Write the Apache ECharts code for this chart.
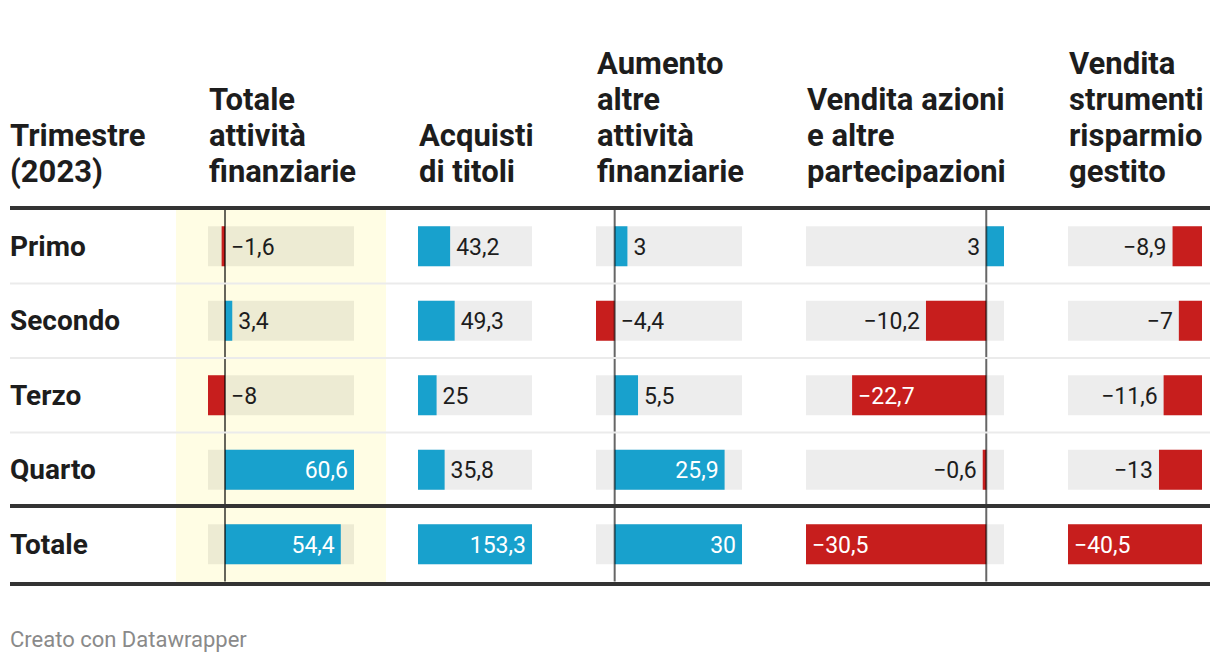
<!DOCTYPE html>
<html>
<head>
<meta charset="utf-8">
<script src="https://cdn.jsdelivr.net/npm/echarts@6/dist/echarts.min.js"></script>
<style>html,body{margin:0;padding:0;background:#fff}#c{width:1220px;height:664px}</style>
</head>
<body>
<div id="c"></div>
<script>
// ---------- data ----------
const categories = ['Primo', 'Secondo', 'Terzo', 'Quarto', 'Totale'];
const firstHeader = 'Trimestre\n(2023)';
const columnTitles = [
  'Totale\nattività\nfinanziarie',
  'Acquisti\ndi titoli',
  'Aumento\naltre\nattività\nfinanziarie',
  'Vendita azioni\ne altre\npartecipazioni',
  'Vendita\nstrumenti\nrisparmio\ngestito'
];
const totaleAttivita   = [-1.6, 3.4, -8, 60.6, 54.4];
const acquistiTitoli   = [43.2, 49.3, 25, 35.8, 153.3];
const aumentoAltre     = [3, -4.4, 5.5, 25.9, 30];
const venditaAzioni    = [3, -10.2, -22.7, -0.6, -30.5];
const venditaStrumenti = [-8.9, -7, -11.6, -13, -40.5];
const footerText = 'Creato con Datawrapper';

// ---------- layout / style ----------
const columns = [totaleAttivita, acquistiTitoli, aumentoAltre, venditaAzioni, venditaStrumenti];
const colLeft  = [208, 418, 596, 806, 1068];
const colWidth = [146, 114, 146, 198, 134];
const GRID_TOP = 209, GRID_H = 372.5;
const BAND = GRID_H / categories.length;
const BAR_H = 40, PAD = 6;
const BLUE = '#18a1cd', RED = '#c71e1d', DARK = '#1d1d1d';
const FONT = 'Roboto, "Noto Sans", sans-serif';
const VAL_SIZE = 23;
const HEAD_SIZE = 31;
const ROW_SIZE = 28;

const ctx = document.createElement('canvas').getContext('2d');
ctx.font = VAL_SIZE + 'px Roboto';
function fmt(v) {
  const s = String(Math.abs(v)).replace('.', ',');
  return v < 0 ? '\u2212' + s : s;
}
function measure(t) { return ctx.measureText(t).width; }

function makeRender(min, max) {
  const posSide = max >= -min;
  const mixed = min < 0 && max > 0;
  return function (params, api) {
    const v = api.value(0), row = api.value(1);
    const z = api.coord([0, row]);
    const x0 = z[0], yc = z[1];
    const xv = api.coord([v, row])[0];
    const xmin = api.coord([min, row])[0];
    const xmax = api.coord([max, row])[0];
    const band = api.size([0, 1])[1];
    const txt = fmt(v);
    const tw = measure(txt);
    const barW = Math.abs(xv - x0);
    const fits = barW >= tw + 2 * PAD + 4;
    let tx, align, color;
    if (posSide) {
      if (v >= 0 && fits) { tx = xv - PAD; align = 'right'; color = '#fff'; }
      else { tx = Math.max(xv, x0) + PAD; align = 'left'; color = DARK; }
    } else {
      if (v < 0 && fits) { tx = xv + PAD; align = 'left'; color = '#fff'; }
      else { tx = Math.min(xv, x0) - PAD; align = 'right'; color = DARK; }
    }
    const children = [
      { type: 'rect', shape: { x: xmin, y: yc - BAR_H / 2, width: xmax - xmin, height: BAR_H },
        style: { fill: 'rgba(0,0,0,0.07)' } },
      { type: 'rect', shape: { x: Math.min(x0, xv), y: yc - BAR_H / 2, width: barW, height: BAR_H },
        style: { fill: v < 0 ? RED : BLUE } },
      { type: 'text', x: tx, y: yc + 1,
        style: { text: txt, fill: color, font: VAL_SIZE + 'px ' + FONT, textAlign: align, textVerticalAlign: 'middle' } }
    ];
    if (mixed) {
      children.push({ type: 'line', shape: { x1: x0, y1: yc - band / 2, x2: x0, y2: yc + band / 2 },
        style: { stroke: 'rgba(0,0,0,0.6)', lineWidth: 2 } });
    }
    return { type: 'group', children };
  };
}

const grids = [], xAxes = [], yAxes = [], series = [], titles = [];
columns.forEach((vals, i) => {
  const min = Math.min(0, ...vals), max = Math.max(0, ...vals);
  grids.push({ left: colLeft[i], top: GRID_TOP, width: colWidth[i], height: GRID_H, containLabel: false });
  xAxes.push({ gridIndex: i, type: 'value', min, max, show: false });
  yAxes.push({
    gridIndex: i, type: 'category', data: categories, inverse: true,
    show: i === 0,
    axisLine: { show: false }, axisTick: { show: false }, splitLine: { show: false },
    axisLabel: i === 0 ? { show: true, align: 'left', margin: colLeft[0] - 10, fontSize: ROW_SIZE, fontWeight: 'bold', color: DARK, fontFamily: FONT } : { show: false }
  });
  series.push({
    type: 'custom', coordinateSystem: 'cartesian2d', xAxisIndex: i, yAxisIndex: i,
    data: vals.map((v, r) => [v, r]), encode: { x: 0, y: 1 },
    renderItem: makeRender(min, max), clip: false, silent: true, z: 3
  });
  titles.push({ text: columnTitles[i], left: colLeft[i] + 1, bottom: 475, padding: 0,
    textStyle: { fontSize: HEAD_SIZE, fontWeight: 'bold', lineHeight: 36, color: DARK, fontFamily: FONT } });
});
titles.push({ text: firstHeader, left: 10, bottom: 475, padding: 0,
  textStyle: { fontSize: HEAD_SIZE, fontWeight: 'bold', lineHeight: 36, color: DARK, fontFamily: FONT } });
titles.push({ text: footerText, left: 10, top: 628, padding: 0,
  textStyle: { fontSize: 22, fontWeight: 'normal', color: '#8a8a8a', fontFamily: FONT } });

const graphics = [
  { type: 'rect', z: 0, shape: { x: 176, y: 208, width: 210, height: 376 }, style: { fill: '#fffde4' } }
];
for (let k = 1; k < 4; k++) {
  const y = GRID_TOP + BAND * k;
  graphics.push({ type: 'line', z: 50, shape: { x1: 10, y1: y, x2: 1210, y2: y }, style: { stroke: '#ebebeb', lineWidth: 2 } });
}
[208, GRID_TOP + BAND * 4 - 1, 584].forEach(y => {
  graphics.push({ type: 'line', z: 50, shape: { x1: 10, y1: y, x2: 1210, y2: y }, style: { stroke: '#333', lineWidth: 4 } });
});

const chart = echarts.init(document.getElementById('c'), null, { renderer: 'svg' });
chart.setOption({
  animation: false,
  backgroundColor: '#fff',
  title: titles,
  grid: grids,
  xAxis: xAxes,
  yAxis: yAxes,
  series,
  graphic: graphics
});
</script>
</body>
</html>
